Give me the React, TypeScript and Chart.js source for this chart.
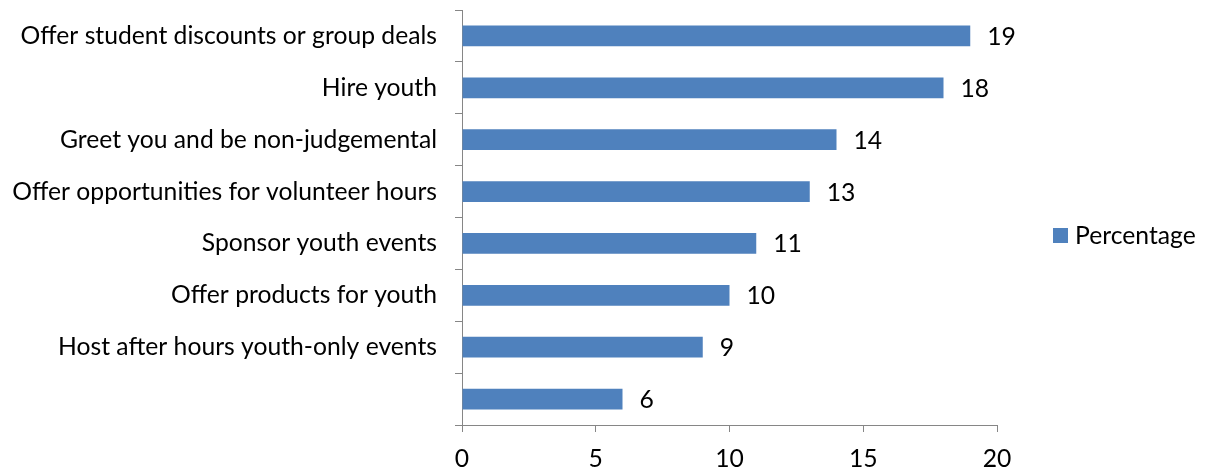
import React, { useEffect, useRef } from "react";
import { Chart, registerables } from "chart.js";

Chart.register(...registerables);

const categories = [
  "Offer student discounts or group deals",
  "Hire youth",
  "Greet you and be non-judgemental",
  "Offer opportunities for volunteer hours",
  "Sponsor youth events",
  "Offer products for youth",
  "Host after hours youth-only events",
  "",
];
const percentage = [19, 18, 14, 13, 11, 10, 9, 6];
const seriesName = "Percentage";
const xTicks = [0, 5, 10, 15, 20];

const FONT = "Lato, 'Liberation Sans', sans-serif";
const FONT_SIZE = 24.7;
const BAR_COLOR = "#4F81BD";
const AXIS_COLOR = "#868686";

const labelsPlugin = {
  id: "valueLabels",
  afterDatasetsDraw(chart: any) {
    const ctx = chart.ctx;
    const meta = chart.getDatasetMeta(0);
    ctx.save();
    ctx.font = `${FONT_SIZE}px ${FONT}`;
    ctx.fillStyle = "#000";
    ctx.textAlign = "left";
    ctx.textBaseline = "middle";
    meta.data.forEach((bar: any, i: number) => {
      ctx.fillText(String(chart.data.datasets[0].data[i]), bar.x + 17, bar.y + 1);
    });
    ctx.restore();
  },
  afterDraw(chart: any) {
    const ctx = chart.ctx;
    const area = chart.chartArea;
    const cy = (area.top + area.bottom) / 2 + 18;
    const x0 = area.right + 56;
    ctx.save();
    ctx.fillStyle = BAR_COLOR;
    ctx.fillRect(x0, cy - 7.5, 15, 15);
    ctx.font = `${FONT_SIZE}px ${FONT}`;
    ctx.fillStyle = "#000";
    ctx.textAlign = "left";
    ctx.textBaseline = "middle";
    ctx.fillText(chart.data.datasets[0].label, x0 + 22, cy + 1);
    ctx.restore();
  },
};

export default function App() {
  const ref = useRef<HTMLCanvasElement | null>(null);
  useEffect(() => {
    if (!ref.current) return;
    const chart = new Chart(ref.current, {
      type: "bar",
      data: {
        labels: categories,
        datasets: [
          {
            label: seriesName,
            data: percentage,
            backgroundColor: BAR_COLOR,
            borderWidth: 0,
            barPercentage: 0.4,
            categoryPercentage: 1,
          },
        ],
      },
      options: {
        indexAxis: "y",
        animation: false,
        responsive: false,
        maintainAspectRatio: false,
        events: [],
        layout: { padding: { top: 10, right: 214, left: 0, bottom: 0 } },
        plugins: {
          legend: { display: false },
          tooltip: { enabled: false },
        },
        scales: {
          x: {
            type: "linear",
            min: 0,
            max: 20,
            afterBuildTicks: (scale: any) => {
              scale.ticks = xTicks.map((v) => ({ value: v }));
            },
            ticks: {
              font: { family: FONT, size: FONT_SIZE },
              color: "#000",
              padding: 12,
              maxRotation: 0,
            },
            grid: {
              drawOnChartArea: false,
              drawTicks: true,
              tickLength: 7,
              color: AXIS_COLOR,
            },
            border: { color: AXIS_COLOR, width: 1 },
            afterFit: (scale: any) => {
              scale.height = 49;
            },
          },
          y: {
            type: "category",
            offset: true,
            ticks: {
              font: { family: FONT, size: FONT_SIZE },
              color: "#000",
              padding: 18,
              autoSkip: false,
            },
            grid: {
              offset: true,
              drawOnChartArea: false,
              drawTicks: true,
              tickLength: 7,
              color: AXIS_COLOR,
            },
            border: { color: AXIS_COLOR, width: 1 },
            afterFit: (scale: any) => {
              scale.width = 462;
              scale.paddingTop = 0;
              scale.paddingBottom = 0;
            },
          },
        },
      },
      plugins: [labelsPlugin],
    } as any);
    return () => chart.destroy();
  }, []);
  return (
    <div style={{ position: "fixed", left: 0, top: 0, width: 1211, height: 474, background: "#fff" }}>
      <canvas ref={ref} width={1211} height={474} style={{ display: "block" }} />
    </div>
  );
}
